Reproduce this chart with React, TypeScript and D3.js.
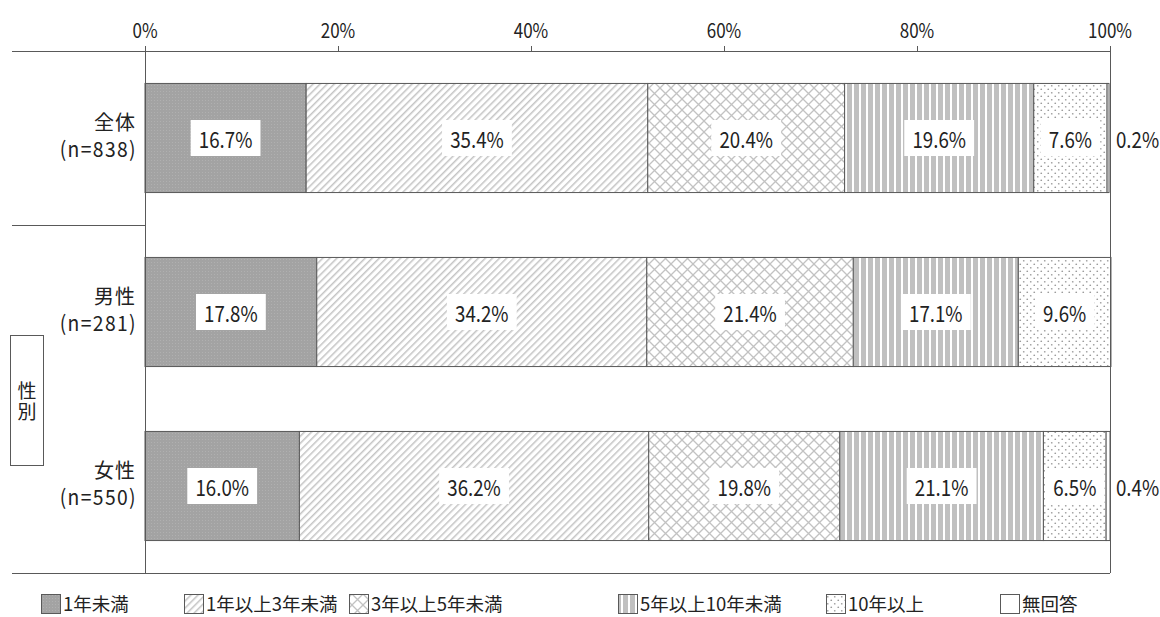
import * as d3 from "d3";

const categories = ["全体", "男性", "女性"];
const sampleSizes = ["(n=838)", "(n=281)", "(n=550)"];
const seriesNames = [
  "1年未満",
  "1年以上3年未満",
  "3年以上5年未満",
  "5年以上10年未満",
  "10年以上",
  "無回答",
];
const under1 = [16.7, 17.8, 16.0];
const from1to3 = [35.4, 34.2, 36.2];
const from3to5 = [20.4, 21.4, 19.8];
const from5to10 = [19.6, 17.1, 21.1];
const over10 = [7.6, 9.6, 6.5];
const noAnswer = [0.2, 0, 0.4];
const tickValues = [0, 20, 40, 60, 80, 100];
const groupLabel = "性別";

const seriesValues = [under1, from1to3, from3to5, from5to10, over10, noAnswer];
const fills = [
  "url(#p0)",
  "url(#p1)",
  "url(#p2)",
  "url(#p3)",
  "url(#p4)",
  "#ffffff",
];
const legendX = [41, 184, 349, 618, 826, 1000];

const width = 1160;
const height = 617;
const font = "'Noto Sans CJK JP', 'Noto Sans', sans-serif";
const lineColor = "#595959";
const textColor = "#222";

// numbers in the reference are narrow and tall
const numSize = 22;
const numScale = 0.85;

// rough text width for the white boxes behind the value labels
function textWidth(s: string, size: number) {
  let w = 0;
  for (const c of s) {
    if (c === ".") w += 0.27;
    else if (c === "%") w += 0.85;
    else w += 0.55;
  }
  return w * size;
}

export default function App() {
  const rows = categories.map((c, i) => {
    const r: Record<string, number | string> = { category: c };
    seriesNames.forEach((s, j) => (r[s] = seriesValues[j][i]));
    return r;
  });
  const stacked = d3
    .stack<Record<string, number | string>>()
    .keys(seriesNames)
    .value((d, k) => d[k] as number)(rows);

  const x = d3.scaleLinear([0, 100], [145, 1110]);
  const y = d3
    .scaleBand<string>()
    .domain(categories)
    .range([51, 573])
    .paddingInner(0.373)
    .paddingOuter(0.1865);
  const step = y.step();
  const top = 51;
  const bottom = 573;
  const sep1 = (y("男性") as number) - (step * 0.373) / 2;

  return (
    <svg
      width={width}
      height={height}
      style={{ position: "absolute", left: 0, top: 0, background: "#fff" }}
      fontFamily={font}
    >
      <defs>
        <pattern id="p0" width="3" height="3" patternUnits="userSpaceOnUse">
          <rect width="3" height="3" fill="#a3a3a3" />
          <rect x="1" y="1" width="1" height="1" fill="#b0b0b0" />
        </pattern>
        <pattern
          id="p1"
          width="5"
          height="5"
          patternUnits="userSpaceOnUse"
          patternTransform="rotate(45)"
        >
          <rect width="5" height="5" fill="#fff" />
          <rect width="1.5" height="5" fill="#c4c4c4" />
        </pattern>
        <pattern id="p2" width="11" height="11" patternUnits="userSpaceOnUse">
          <rect width="11" height="11" fill="#fff" />
          <path
            d="M0,0L11,11M11,0L0,11"
            stroke="#c2c2c2"
            strokeWidth="1.3"
            fill="none"
          />
        </pattern>
        <pattern id="p3" width="7" height="7" patternUnits="userSpaceOnUse">
          <rect width="7" height="7" fill="#fff" />
          <rect width="5" height="7" fill="#c0c0c0" />
        </pattern>
        <pattern id="p4" width="7" height="7" patternUnits="userSpaceOnUse">
          <rect width="7" height="7" fill="#fff" />
          <circle cx="1.75" cy="1.75" r="0.85" fill="#9a9a9a" />
          <circle cx="5.25" cy="5.25" r="0.85" fill="#9a9a9a" />
        </pattern>
      </defs>

      {/* bars */}
      {stacked.map((layer, j) => (
        <g key={layer.key}>
          {layer.map((d, i) => {
            const v = seriesValues[j][i];
            if (!v) return null;
            return (
              <rect
                key={i}
                x={x(d[0])}
                y={y(categories[i])}
                width={x(d[1]) - x(d[0])}
                height={y.bandwidth()}
                fill={fills[j]}
                stroke={lineColor}
                strokeWidth={1}
              />
            );
          })}
        </g>
      ))}

      {/* value labels */}
      {stacked.map((layer, j) =>
        layer.map((d, i) => {
          const v = seriesValues[j][i];
          if (!v) return null;
          const label = v.toFixed(1) + "%";
          const cy = (y(categories[i]) as number) + y.bandwidth() / 2;
          if (v < 1) {
            return (
              <text
                key={`${j}-${i}`}
                transform={`translate(${x(100) + 6},${cy}) scale(${numScale},1)`}
                dominantBaseline="central"
                fontSize={numSize}
                fill={textColor}
              >
                {label}
              </text>
            );
          }
          const cx = (x(d[0]) + x(d[1])) / 2;
          const w = textWidth(label, numSize) * numScale + 18;
          return (
            <g key={`${j}-${i}`}>
              <rect x={cx - w / 2} y={cy - 18} width={w} height={36} fill="#fff" />
              <text
                transform={`translate(${cx},${cy}) scale(${numScale},1)`}
                textAnchor="middle"
                dominantBaseline="central"
                fontSize={numSize}
                fill={textColor}
              >
                {label}
              </text>
            </g>
          );
        })
      )}

      {/* frame and separators */}
      <g stroke={lineColor} strokeWidth={1} fill="none" shapeRendering="crispEdges">
        <line x1={12} x2={x(100)} y1={top} y2={top} />
        <line x1={12} x2={x(0)} y1={sep1} y2={sep1} />
        <line x1={12} x2={x(100)} y1={bottom} y2={bottom} />
        <line x1={x(0)} x2={x(0)} y1={top} y2={bottom} />
        <line x1={x(100)} x2={x(100)} y1={top} y2={bottom} />
        {tickValues.map((t) => (
          <line key={t} x1={x(t)} x2={x(t)} y1={top - 5} y2={top} />
        ))}
      </g>

      {/* tick labels */}
      {tickValues.map((t) => (
        <text
          key={t}
          transform={`translate(${x(t)},29) scale(${numScale},1)`}
          textAnchor="middle"
          dominantBaseline="central"
          fontSize={20}
          fill={textColor}
        >
          {t}%
        </text>
      ))}

      {/* category labels */}
      {categories.map((c, i) => {
        const cy = (y(c) as number) + y.bandwidth() / 2;
        return (
          <g key={c} fill={textColor} textAnchor="end" dominantBaseline="central">
            <text x={136} y={cy - 17} fontSize={20} letterSpacing={1}>
              {c}
            </text>
            <text
              transform={`translate(137,${cy + 10}) scale(0.92,1)`}
              fontSize={21}
              letterSpacing={1.5}
            >
              {sampleSizes[i]}
            </text>
          </g>
        );
      })}

      {/* group label box, vertical text */}
      <rect x={10.5} y={335.5} width={33} height={130} fill="#fff" stroke={lineColor} />
      <text
        x={27}
        y={402}
        textAnchor="middle"
        fontSize={19}
        fill={textColor}
        letterSpacing={2}
        style={{ writingMode: "vertical-rl" }}
      >
        {groupLabel}
      </text>

      {/* legend */}
      {seriesNames.map((s, j) => (
        <g key={s}>
          <rect
            x={legendX[j] + 0.5}
            y={594.5}
            width={19}
            height={19}
            fill={fills[j]}
            stroke={lineColor}
          />
          <text
            x={legendX[j] + 22}
            y={603}
            dominantBaseline="central"
            fontSize={18.5}
            fill={textColor}
          >
            {s}
          </text>
        </g>
      ))}
    </svg>
  );
}
